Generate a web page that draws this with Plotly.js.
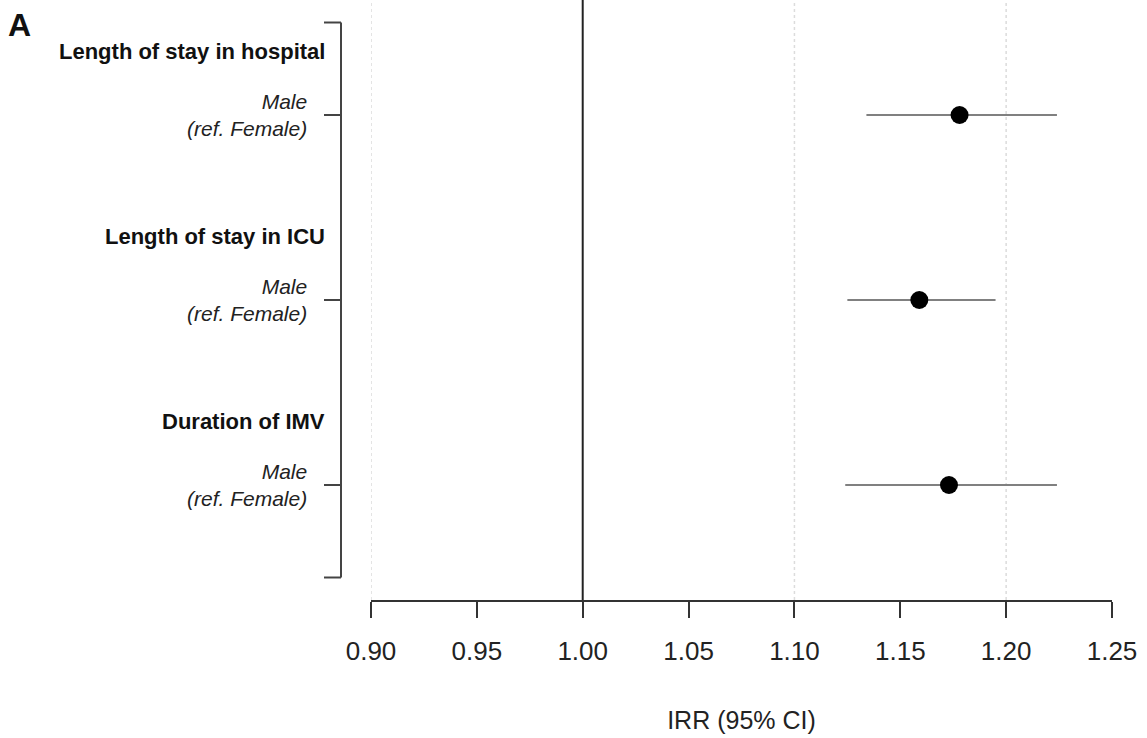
<!DOCTYPE html>
<html>
<head>
<meta charset="utf-8">
<script src="https://cdn.plot.ly/plotly-3.0.1.min.js"></script>
<style>html,body{margin:0;padding:0;background:#fff;}#chart{width:1147px;height:738px;}</style>
</head>
<body>
<div id="chart"></div>
<script>
// ---- data ----
const groups = ["Length of stay in hospital", "Length of stay in ICU", "Duration of IMV"];
const rowLabels = ["Male<br>(ref. Female)", "Male<br>(ref. Female)", "Male<br>(ref. Female)"];
const rows = [1, 2, 3];
const irr = [1.178, 1.159, 1.173];
const ciLow = [1.134, 1.125, 1.124];
const ciHigh = [1.224, 1.195, 1.224];
const xTicks = [0.90, 0.95, 1.00, 1.05, 1.10, 1.15, 1.20, 1.25];
const gridVals = [0.90, 1.10, 1.20];
const refValue = 1.00;
const bracketTicks = [0.5, 1, 2, 3, 3.5];

const W = 1147, H = 738;
const mL = 371, mR = 35, mT = 0, mB = 138;
const plotW = W - mL - mR;
const px2paper = p => (p - mL) / plotW;
const FONT = '"Liberation Sans", Arial, sans-serif';

const trace = {
  x: irr,
  y: rows,
  type: 'scatter',
  mode: 'markers',
  marker: {color: '#000', size: 18, symbol: 'circle'},
  error_x: {
    type: 'data', symmetric: false,
    array: irr.map((v, i) => ciHigh[i] - v),
    arrayminus: irr.map((v, i) => v - ciLow[i]),
    color: '#808080', thickness: 2, width: 0
  },
  hoverinfo: 'x',
  showlegend: false
};

const shapes = [];
gridVals.forEach(g => shapes.push({
  type: 'line', xref: 'x', yref: 'paper', x0: g, x1: g, y0: 0, y1: 1,
  line: {color: '#dcdcdc', width: 1.5, dash: 'dot'}, layer: 'below'
}));
shapes.push({
  type: 'line', xref: 'x', yref: 'paper', x0: refValue, x1: refValue, y0: 0, y1: 1,
  line: {color: '#222', width: 2}, layer: 'above'
});
// bracket axis on the left
const bx = px2paper(341), bxt = px2paper(324);
shapes.push({
  type: 'line', xref: 'paper', yref: 'y', x0: bx, x1: bx,
  y0: bracketTicks[0], y1: bracketTicks[bracketTicks.length - 1],
  line: {color: '#444', width: 2}
});
bracketTicks.forEach(t => shapes.push({
  type: 'line', xref: 'paper', yref: 'y', x0: bxt, x1: bx, y0: t, y1: t,
  line: {color: '#444', width: 2}
}));

const annotations = [];
groups.forEach((g, i) => annotations.push({
  text: '<b>' + g + '</b>', xref: 'paper', yref: 'y',
  x: px2paper(327), y: rows[i] - 0.345, xanchor: 'right', yanchor: 'middle',
  showarrow: false, font: {size: 22, color: '#111', family: FONT}
}));
rowLabels.forEach((l, i) => annotations.push({
  text: '<i>' + l + '</i>', xref: 'paper', yref: 'y',
  x: px2paper(309), y: rows[i], xanchor: 'right', yanchor: 'middle', align: 'right',
  showarrow: false, font: {size: 21, color: '#222', family: FONT}
}));
annotations.push({
  text: '<b>A</b>', xref: 'paper', yref: 'paper',
  x: px2paper(6), y: 1 - 25 / (H - mT - mB), xanchor: 'left', yanchor: 'middle',
  showarrow: false, font: {size: 32, color: '#111', family: FONT}
});

const layout = {
  width: W, height: H,
  margin: {l: mL, r: mR, t: mT, b: mB, pad: 0},
  paper_bgcolor: '#fff', plot_bgcolor: '#fff',
  font: {family: FONT, color: '#222'},
  xaxis: {
    range: [xTicks[0], xTicks[xTicks.length - 1]],
    tickvals: xTicks, ticktext: xTicks.map(v => v.toFixed(2)),
    showline: true, linecolor: '#333', linewidth: 2,
    ticks: 'outside', ticklen: 16, tickwidth: 2, tickcolor: '#333',
    tickfont: {size: 26, color: '#222', family: FONT},
    ticklabelstandoff: 11,
    showgrid: false, zeroline: false,
    title: {text: 'IRR (95% CI)', font: {size: 25, color: '#222', family: FONT}, standoff: 46}
  },
  yaxis: {
    range: [1 + 485 / 185, 1 - 115 / 185],
    visible: false, showgrid: false, zeroline: false
  },
  shapes: shapes,
  annotations: annotations,
  showlegend: false
};

Plotly.newPlot('chart', [trace], layout, {displayModeBar: false, staticPlot: true});
</script>
</body>
</html>
